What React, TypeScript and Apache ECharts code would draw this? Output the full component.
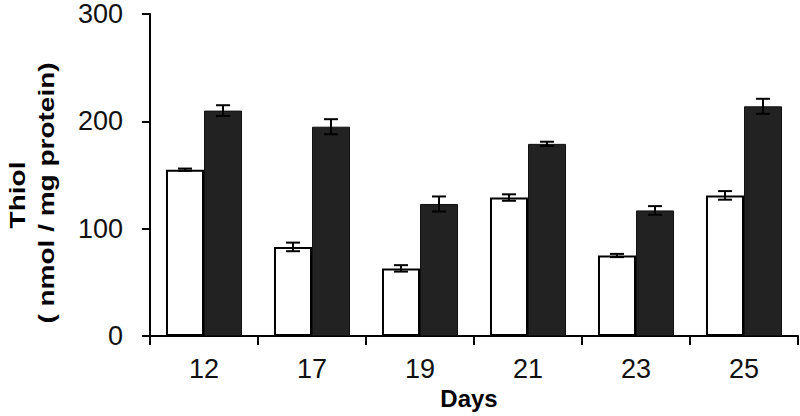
import React, { useEffect, useRef } from "react";
import * as echarts from "echarts";

const days = ["12", "17", "19", "21", "23", "25"];
const controlMeans = [155, 83, 63, 129, 75, 131];
const controlErrors = [1, 4, 3, 3, 1.5, 4];
const treatedMeans = [210, 195, 123, 179, 117, 214];
const treatedErrors = [5, 7, 7, 2, 4, 7];
const yTicks = [0, 100, 200, 300];
const yTitleLines = ["Thiol", "( nmol / mg protein)"];
const xTitle = "Days";

const BAR_FRACTION = 0.352;
const FONT = "Liberation Sans, Arial, sans-serif";

function errorSeries(means: number[], errs: number[], side: number) {
  return {
    type: "custom",
    silent: true,
    z: 10,
    data: means.map((m, i) => [i, m, errs[i]]),
    renderItem: (params: any, api: any) => {
      const idx = api.value(0);
      const mean = api.value(1);
      const err = api.value(2);
      const band = api.size([1, 0])[0];
      const off = side * band * BAR_FRACTION / 2;
      const top = api.coord([idx, mean + err]);
      const bot = api.coord([idx, mean - err]);
      const cx = top[0] + off;
      const cap = 7;
      const style = { stroke: "#000", lineWidth: 2 };
      return {
        type: "group",
        children: [
          { type: "line", shape: { x1: cx, y1: top[1], x2: cx, y2: bot[1] }, style },
          { type: "line", shape: { x1: cx - cap, y1: top[1], x2: cx + cap, y2: top[1] }, style },
          { type: "line", shape: { x1: cx - cap, y1: bot[1], x2: cx + cap, y2: bot[1] }, style },
        ],
      };
    },
  };
}

export default function App() {
  const ref = useRef<HTMLDivElement>(null);
  useEffect(() => {
    if (!ref.current) return;
    const chart = echarts.init(ref.current, null, { renderer: "svg" });
    chart.setOption({
      animation: false,
      backgroundColor: "#fff",
      grid: { left: 150, right: 2, top: 14, bottom: 80, containLabel: false },
      xAxis: {
        type: "category",
        data: days,
        axisLine: { lineStyle: { color: "#000", width: 2 } },
        axisTick: { show: true, length: 9, lineStyle: { color: "#000", width: 2 } },
        axisLabel: { color: "#111", fontSize: 27, fontFamily: FONT, margin: 19 },
        name: xTitle,
        nameLocation: "middle",
        nameGap: 45,
        nameTextStyle: {
          color: "#000",
          fontSize: 24,
          fontWeight: "bold",
          fontFamily: FONT,
          padding: [0, 10, 0, 0],
        },
      },
      yAxis: {
        type: "value",
        min: yTicks[0],
        max: yTicks[yTicks.length - 1],
        interval: 100,
        splitLine: { show: false },
        axisLine: { show: true, lineStyle: { color: "#000", width: 2 } },
        axisTick: { show: true, length: 8, lineStyle: { color: "#000", width: 2 } },
        axisLabel: { color: "#111", fontSize: 27, lineHeight: 24, fontFamily: FONT, margin: 27 },
      },
      graphic: [
        {
          type: "text",
          x: 17,
          y: 195,
          rotation: Math.PI / 2,
          scaleY: 0.78,
          style: {
            text: yTitleLines[0],
            fontSize: 28,
            fontWeight: "bold",
            fontFamily: FONT,
            fill: "#000",
            textAlign: "center",
            textVerticalAlign: "middle",
          },
        },
        {
          type: "text",
          x: 46,
          y: 193,
          rotation: Math.PI / 2,
          scaleY: 0.78,
          style: {
            text: yTitleLines[1],
            fontSize: 28,
            fontWeight: "bold",
            fontFamily: FONT,
            fill: "#000",
            textAlign: "center",
            textVerticalAlign: "middle",
          },
        },
      ],
      series: [
        {
          type: "bar",
          data: controlMeans,
          barGap: "0%",
          barCategoryGap: "29.6%",
          itemStyle: { color: "#fff", borderColor: "#000", borderWidth: 2 },
        },
        {
          type: "bar",
          data: treatedMeans,
          itemStyle: { color: "#222", borderColor: "#111", borderWidth: 1 },
        },
        errorSeries(controlMeans, controlErrors, -1),
        errorSeries(treatedMeans, treatedErrors, 1),
      ],
    });
    return () => chart.dispose();
  }, []);
  return <div ref={ref} style={{ width: 800, height: 416, position: "fixed", left: 0, top: 0 }} />;
}
